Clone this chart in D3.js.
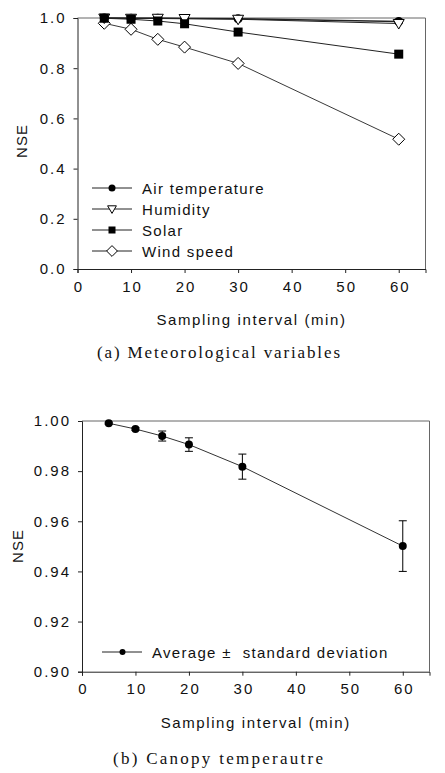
<!DOCTYPE html>
<html><head><meta charset="utf-8">
<script src="https://cdn.jsdelivr.net/npm/d3@7"></script>
<style>
body{margin:0;background:#fff;}
svg{display:block;}
text{font-family:Arial,"Liberation Sans",sans-serif;fill:#111;}
.cap{font-family:"Liberation Serif","DejaVu Serif",serif;}
</style></head><body>
<svg id="c" width="445" height="773"></svg>
<script>
const intervals = [5, 10, 15, 20, 30, 60];
const airTemp   = [1.000, 0.999, 0.999, 0.998, 0.997, 0.986];
const humidity  = [1.000, 0.999, 0.999, 0.998, 0.995, 0.978];
const solar     = [0.999, 0.995, 0.988, 0.977, 0.944, 0.856];
const windSpeed = [0.979, 0.955, 0.915, 0.884, 0.819, 0.517];
const seriesNamesA = ["Air temperature", "Humidity", "Solar", "Wind speed"];
const canopyAvg = [0.9991, 0.9968, 0.9940, 0.9906, 0.9818, 0.9501];
const canopySd  = [0.0004, 0.0005, 0.0020, 0.0027, 0.0050, 0.0101];
const xTicks = [0, 10, 20, 30, 40, 50, 60];
const yTicksA = [0, 0.2, 0.4, 0.6, 0.8, 1.0];
const yTicksB = [0.90, 0.92, 0.94, 0.96, 0.98, 1.00];

const svg = d3.select("#c");

function panel(o){
  const g = svg.append("g");
  const x = d3.scaleLinear().domain([0,65]).range([o.l, o.r]);
  const y = d3.scaleLinear().domain(o.yd).range([o.b, o.t]);
  g.append("path").attr("d",`M${o.l},${o.t}H${o.r}V${o.b}`).attr("fill","none").attr("stroke","#666").attr("stroke-width",1);
  const xa = g.append("g").attr("transform",`translate(0,${o.b})`)
    .call(d3.axisBottom(x).tickValues(xTicks).tickSize(4).tickPadding(8).tickFormat(d3.format("d")));
  const ya = g.append("g").attr("transform",`translate(${o.l},0)`)
    .call(d3.axisLeft(y).tickValues(o.yt).tickSize(4).tickPadding(7).tickFormat(d3.format(o.fmt)));
  [xa,ya].forEach(a=>{
    a.select(".domain").attr("stroke","#222");
    a.selectAll(".tick line").attr("stroke","#222");
    a.selectAll("text").attr("font-size",15).attr("letter-spacing","2px").attr("fill","#111")
      .attr("font-family","Arial, 'Liberation Sans', sans-serif");
  });
  xa.selectAll("text").attr("dx","1px");
  g.append("text").attr("x",(o.l+o.r)/2+(o.xlDx||0)).attr("y",o.xlY).attr("text-anchor","middle")
    .attr("font-size",15).attr("letter-spacing","1.6px").text("Sampling interval (min)");
  g.append("text").attr("transform",`translate(${o.ylX},${o.ylY}) rotate(-90)`).attr("text-anchor","middle")
    .attr("font-size",15).attr("letter-spacing","1px").text("NSE");
  g.append("text").attr("class","cap").attr("x",o.capX).attr("y",o.capY)
    .attr("font-size",17).attr("textLength",o.capW).attr("lengthAdjust","spacing").attr("fill","#222").text(o.cap);
  return {g,x,y};
}

function marker(sel, type, cx, cy, s){
  if(type==="circle") sel.append("circle").attr("cx",cx).attr("cy",cy).attr("r",s*0.5).attr("fill","#000");
  if(type==="square") sel.append("rect").attr("x",cx-s/2).attr("y",cy-s/2).attr("width",s).attr("height",s).attr("fill","#000");
  if(type==="tri") sel.append("path").attr("d",`M${cx-s*0.55},${cy-s*0.4}L${cx+s*0.55},${cy-s*0.4}L${cx},${cy+s*0.55}Z`).attr("fill","#fff").attr("stroke","#000").attr("stroke-width",1);
  if(type==="diamond") sel.append("path").attr("d",`M${cx},${cy-s*0.6}L${cx+s*0.6},${cy}L${cx},${cy+s*0.6}L${cx-s*0.6},${cy}Z`).attr("fill","#fff").attr("stroke","#000").attr("stroke-width",1);
}

// Panel (a)
const A = panel({l:77.5,r:425.5,t:18,b:269,yd:[0,1],yt:yTicksA,fmt:".1f",xlY:325,ylX:27,ylY:141,
  cap:"(a)  Meteorological  variables",capX:97,capY:358,capW:243});
const seriesA = [
  {name:seriesNamesA[0],v:airTemp,m:"circle",s:9,w:1.6},
  {name:seriesNamesA[1],v:humidity,m:"tri",s:10,w:1},
  {name:seriesNamesA[2],v:solar,m:"square",s:9,w:1},
  {name:seriesNamesA[3],v:windSpeed,m:"diamond",s:10,w:0.9}
];
const line = (sc)=>d3.line().x((d,i)=>sc.x(intervals[i])).y(d=>sc.y(d));
const order = [3,0,1,2];
order.forEach(k=>{
  const s = seriesA[k];
  A.g.append("path").datum(s.v).attr("d",line(A)).attr("fill","none").attr("stroke","#222").attr("stroke-width",s.w);
});
order.forEach(k=>{
  const s = seriesA[k];
  s.v.forEach((d,i)=>marker(A.g, s.m, A.x(intervals[i]), A.y(d), s.s));
});
seriesA.forEach((s,i)=>{
  const yy = 188 + i*21;
  A.g.append("line").attr("x1",92).attr("x2",132).attr("y1",yy).attr("y2",yy).attr("stroke","#222").attr("stroke-width",1);
  marker(A.g, s.m, 112, yy, s.m==="diamond"?9:(s.m==="tri"?8:7));
  A.g.append("text").attr("x",142).attr("y",yy+5.5).attr("font-size",15).attr("letter-spacing","1.3px").text(s.name);
});

// Panel (b)
const B = panel({l:82,r:429.5,t:421,b:671.7,yd:[0.9,1.0],yt:yTicksB,fmt:".2f",xlY:728,ylX:23,ylY:546,
  cap:"(b)  Canopy  temperautre",capX:113,capY:764,capW:210});
B.g.append("path").datum(canopyAvg).attr("d",line(B)).attr("fill","none").attr("stroke","#333").attr("stroke-width",1);
canopyAvg.forEach((d,i)=>{
  const cx = B.x(intervals[i]);
  const y1 = B.y(d+canopySd[i]), y2 = B.y(d-canopySd[i]);
  B.g.append("line").attr("x1",cx).attr("x2",cx).attr("y1",y1).attr("y2",y2).attr("stroke","#000");
  [y1,y2].forEach(yy=>B.g.append("line").attr("x1",cx-4).attr("x2",cx+4).attr("y1",yy).attr("y2",yy).attr("stroke","#000"));
  marker(B.g,"circle",cx,B.y(d),8);
});
B.g.append("line").attr("x1",102).attr("x2",142).attr("y1",652).attr("y2",652).attr("stroke","#222");
marker(B.g,"circle",122.5,652,6);
B.g.append("text").attr("x",152).attr("y",657.5).attr("font-size",15).attr("letter-spacing","1.3px").attr("xml:space","preserve").text("Average \u00B1  standard deviation");
</script>
</body></html>
